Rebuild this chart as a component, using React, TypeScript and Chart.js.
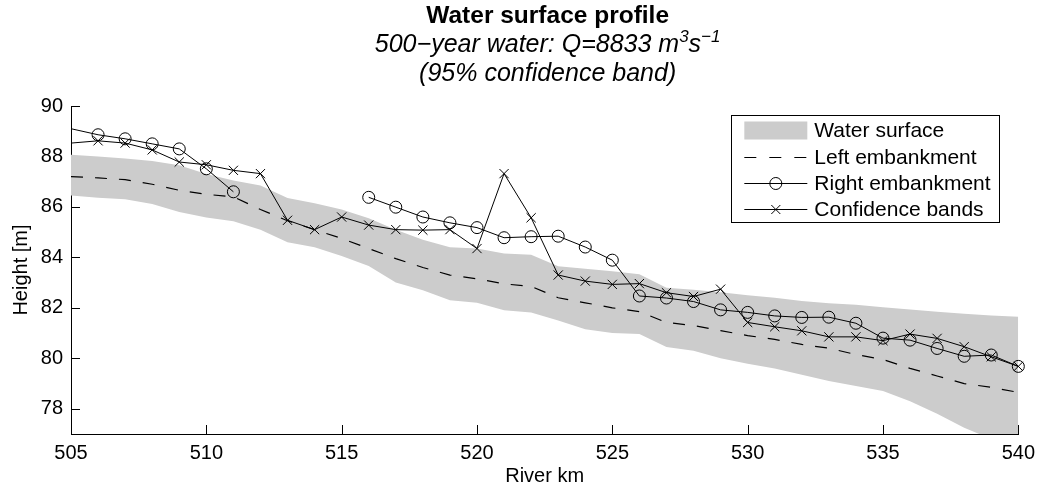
import React, { useEffect, useRef } from "react";
import { Chart, registerables } from "chart.js";

Chart.register(...registerables);

// ---------- data ----------
const riverKm = [
  505, 506, 507, 508, 509, 510, 511, 512, 513, 514, 515, 516, 517, 518, 519, 520, 521, 522,
  523, 524, 525, 526, 527, 528, 529, 530, 531, 532, 533, 534, 535, 536, 537, 538, 539, 540,
];

const waterUpper = [
  88.07, 88.0, 87.92, 87.82, 87.65, 87.3, 87.05, 86.85, 86.35, 86.15, 85.9, 85.55, 85.1, 84.7,
  84.4, 84.35, 84.15, 84.1, 83.65, 83.55, 83.45, 83.33, 82.8, 82.72, 82.62, 82.5, 82.4, 82.27,
  82.18, 82.12, 82.02, 81.93, 81.85, 81.77, 81.7, 81.65,
];

const waterLower = [
  86.45, 86.36, 86.3, 86.12, 85.8, 85.58, 85.43, 85.1, 84.6, 84.4, 84.05, 83.66, 83.0, 82.7,
  82.3, 82.2, 81.9, 81.82, 81.5, 81.15, 81.0, 80.96, 80.45, 80.3, 80.0, 79.78, 79.6, 79.35,
  79.1, 78.9, 78.7, 78.3, 77.8, 77.25, 76.8, 76.3,
];

const leftEmbankment = [
  87.2, 87.15, 87.08, 86.9, 86.66, 86.5, 86.4, 85.9, 85.45, 85.1, 84.75, 84.35, 83.95, 83.6,
  83.3, 83.15, 82.95, 82.85, 82.4, 82.2, 82.0, 81.85, 81.42, 81.3, 81.1, 80.9, 80.75, 80.55,
  80.4, 80.15, 79.95, 79.6, 79.3, 79.0, 78.85, 78.65,
];

const rightEmbankment = [
  89.1, 88.86, 88.7, 88.5, 88.3, 87.51, 86.6, null, null, null, null, 86.38, 85.99, 85.6,
  85.37, 85.18, 84.78, 84.82, 84.84, 84.41, 83.89, 82.47, 82.39, 82.25, 81.92, 81.82, 81.68,
  81.62, 81.63, 81.39, 80.8, 80.72, 80.39, 80.08, 80.13, 79.68,
];

const confidenceBands = [
  88.53, 88.62, 88.53, 88.26, 87.78, 87.67, 87.45, 87.32, 85.47, 85.1, 85.6, 85.28, 85.1, 85.08,
  85.1, 84.35, 87.32, 85.57, 83.3, 83.06, 82.93, 82.96, 82.6, 82.45, 82.74, 81.42, 81.25, 81.09,
  80.85, 80.85, 80.7, 80.96, 80.79, 80.46, 80.06, 79.68,
];

const xTickValues = [505, 510, 515, 520, 525, 530, 535, 540];
const yTickValues = [78, 80, 82, 84, 86, 88, 90];

const legendLabels = ["Water surface", "Left embankment", "Right embankment", "Confidence bands"];
const titleText = "Water surface profile";
const subtitleSegments = [
  { text: "500\u2212year water: Q=8833 m", sup: false },
  { text: "3", sup: true },
  { text: "s", sup: false },
  { text: "\u22121", sup: true },
];
const subtitleLine2 = "(95% confidence band)";
const xAxisTitle = "River km";
const yAxisTitle = "Height [m]";

const FONT = '"Liberation Sans", Arial, Helvetica, sans-serif';
const GRAY = "#cccccc";

const toPoints = (vals: (number | null)[]) => riverKm.map((x, i) => ({ x, y: vals[i] }));

// ---------- plugins ----------
const titlePlugin = {
  id: "matlabTitle",
  afterDraw(chart: any) {
    const { ctx, chartArea } = chart;
    const cx = (chartArea.left + chartArea.right) / 2 + 3;
    ctx.save();
    ctx.fillStyle = "#000";
    ctx.textBaseline = "alphabetic";
    ctx.textAlign = "left";
    ctx.font = `bold 24.5px ${FONT}`;
    const w1 = ctx.measureText(titleText).width;
    ctx.fillText(titleText, cx - w1 / 2, 23);

    const mainFont = `italic 25px ${FONT}`;
    const supFont = `italic 17px ${FONT}`;
    let total = 0;
    const widths = subtitleSegments.map((s) => {
      ctx.font = s.sup ? supFont : mainFont;
      const w = ctx.measureText(s.text).width;
      total += w;
      return w;
    });
    let x = cx - total / 2;
    subtitleSegments.forEach((s, i) => {
      ctx.font = s.sup ? supFont : mainFont;
      ctx.fillText(s.text, x, s.sup ? 52 - 10 : 52);
      x += widths[i];
    });

    ctx.font = mainFont;
    const w3 = ctx.measureText(subtitleLine2).width;
    ctx.fillText(subtitleLine2, cx - w3 / 2, 81);
    ctx.restore();
  },
};

const tickPlugin = {
  id: "inwardTicks",
  beforeDatasetsDraw(chart: any) {
    const { ctx, chartArea, scales } = chart;
    ctx.save();
    ctx.strokeStyle = "#000";
    ctx.lineWidth = 1;
    xTickValues.forEach((v) => {
      const px = Math.round(scales.x.getPixelForValue(v)) + 0.5;
      ctx.beginPath();
      ctx.moveTo(px, chartArea.bottom);
      ctx.lineTo(px, chartArea.bottom - 9);
      ctx.stroke();
    });
    yTickValues.forEach((v) => {
      const py = Math.round(scales.y.getPixelForValue(v)) + 0.5;
      ctx.beginPath();
      ctx.moveTo(chartArea.left, py);
      ctx.lineTo(chartArea.left + 9, py);
      ctx.stroke();
    });
    ctx.restore();
  },
};

const legendPlugin = {
  id: "boxLegend",
  afterDraw(chart: any) {
    const { ctx, chartArea } = chart;
    const right = chartArea.right - 19;
    const top = chartArea.top + 9;
    const left = right - 268;
    const bottom = top + 107;
    ctx.save();
    ctx.fillStyle = "#fff";
    ctx.fillRect(left, top, right - left, bottom - top);
    ctx.strokeStyle = "#000";
    ctx.lineWidth = 1;
    ctx.strokeRect(Math.round(left) + 0.5, Math.round(top) + 0.5, Math.round(right - left), Math.round(bottom - top));

    const sx0 = left + 13;
    const sx1 = left + 76;
    const mid = (sx0 + sx1) / 2;
    const rowY = (i: number) => top + 15.5 + i * 26.3;

    // row 0: gray patch
    ctx.fillStyle = GRAY;
    ctx.fillRect(sx0, rowY(0) - 9, sx1 - sx0, 18);

    // row 1: dashed
    ctx.strokeStyle = "#000";
    ctx.lineWidth = 1.2;
    ctx.setLineDash([12, 13]);
    ctx.beginPath();
    ctx.moveTo(sx0, Math.round(rowY(1)) + 0.5);
    ctx.lineTo(sx1, Math.round(rowY(1)) + 0.5);
    ctx.stroke();
    ctx.setLineDash([]);

    // row 2: line with circle
    ctx.lineWidth = 1;
    let y = Math.round(rowY(2)) + 0.5;
    ctx.beginPath();
    ctx.moveTo(sx0, y);
    ctx.lineTo(sx1, y);
    ctx.stroke();
    ctx.beginPath();
    ctx.arc(mid, y, 6, 0, Math.PI * 2);
    ctx.stroke();

    // row 3: line with x
    y = Math.round(rowY(3)) + 0.5;
    ctx.beginPath();
    ctx.moveTo(sx0, y);
    ctx.lineTo(sx1, y);
    ctx.stroke();
    const d = 4.5;
    ctx.beginPath();
    ctx.moveTo(mid - d, y - d);
    ctx.lineTo(mid + d, y + d);
    ctx.moveTo(mid - d, y + d);
    ctx.lineTo(mid + d, y - d);
    ctx.stroke();

    ctx.fillStyle = "#000";
    ctx.font = `21px ${FONT}`;
    ctx.textBaseline = "middle";
    ctx.textAlign = "left";
    legendLabels.forEach((l, i) => ctx.fillText(l, sx1 + 7, rowY(i) + 1));
    ctx.restore();
  },
};

export default function App() {
  const canvasRef = useRef<HTMLCanvasElement | null>(null);

  useEffect(() => {
    if (!canvasRef.current) return;
    const chart = new Chart(canvasRef.current, {
      type: "line",
      data: {
        datasets: [
          {
            label: legendLabels[1],
            data: toPoints(leftEmbankment),
            borderColor: "#000",
            borderWidth: 1.2,
            borderDash: [12, 12],
            pointRadius: 0,
            tension: 0,
            fill: false,
          },
          {
            label: legendLabels[2],
            data: toPoints(rightEmbankment),
            borderColor: "#000",
            borderWidth: 1,
            pointStyle: "circle",
            pointRadius: (c: any) => (c.dataIndex === 0 ? 0 : 6),
            pointBorderColor: "#000",
            pointBackgroundColor: "rgba(0,0,0,0)",
            pointBorderWidth: 1,
            spanGaps: false,
            tension: 0,
            fill: false,
            clip: false,
          },
          {
            label: legendLabels[3],
            data: toPoints(confidenceBands),
            borderColor: "#000",
            borderWidth: 1,
            pointStyle: "crossRot",
            pointRadius: (c: any) => (c.dataIndex === 0 ? 0 : 6.5),
            pointBorderColor: "#000",
            pointBorderWidth: 1,
            tension: 0,
            fill: false,
            clip: false,
          },
          {
            label: legendLabels[0],
            data: toPoints(waterUpper),
            borderWidth: 0,
            borderColor: "rgba(0,0,0,0)",
            backgroundColor: GRAY,
            pointRadius: 0,
            tension: 0,
            fill: "+1",
            clip: { left: 1, top: 0, right: 0, bottom: 1 },
          },
          {
            label: "lower",
            data: toPoints(waterLower),
            borderWidth: 0,
            borderColor: "rgba(0,0,0,0)",
            backgroundColor: GRAY,
            pointRadius: 0,
            tension: 0,
            fill: false,
            clip: { left: 1, top: 0, right: 0, bottom: 1 },
          },
        ],
      },
      options: {
        responsive: false,
        animation: false,
        events: [],
        layout: { padding: { top: 106, right: 22, left: 0, bottom: 0 } },
        plugins: {
          legend: { display: false },
          tooltip: { enabled: false },
          title: { display: false },
        },
        scales: {
          x: {
            type: "linear",
            min: 505,
            max: 540,
            afterFit: (s: any) => {
              s.height = 56;
            },
            afterBuildTicks: (s: any) => {
              s.ticks = xTickValues.map((v) => ({ value: v }));
            },
            grid: { drawOnChartArea: false, drawTicks: false },
            border: { display: true, color: "#000", width: 1 },
            ticks: {
              color: "#000",
              font: { family: FONT, size: 20 },
              padding: 7,
              maxRotation: 0,
              autoSkip: false,
            },
            title: {
              display: true,
              text: xAxisTitle,
              color: "#000",
              font: { family: FONT, size: 20 },
              padding: { top: 0, bottom: 2 },
            },
          },
          y: {
            type: "linear",
            min: 77,
            max: 90,
            afterFit: (s: any) => {
              s.width = 71;
            },
            afterBuildTicks: (s: any) => {
              s.ticks = yTickValues.map((v) => ({ value: v }));
            },
            grid: { drawOnChartArea: false, drawTicks: false },
            border: { display: true, color: "#000", width: 1 },
            ticks: {
              color: "#000",
              font: { family: FONT, size: 20 },
              padding: 8,
              autoSkip: false,
            },
            title: {
              display: true,
              text: yAxisTitle,
              color: "#000",
              font: { family: FONT, size: 20 },
              padding: { top: 9, bottom: 0 },
            },
          },
        },
      },
      plugins: [tickPlugin, legendPlugin, titlePlugin],
    } as any);
    return () => chart.destroy();
  }, []);

  return (
    <div style={{ position: "fixed", left: 0, top: 0, width: 1042, height: 490, background: "#fff" }}>
      <canvas ref={canvasRef} width={1042} height={490} style={{ display: "block" }} />
    </div>
  );
}
